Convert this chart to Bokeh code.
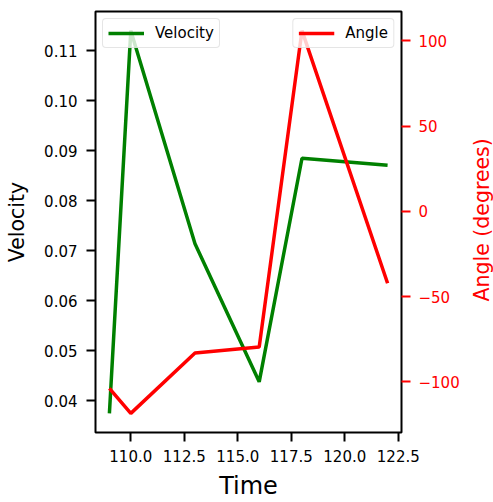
import math
from bokeh.plotting import figure
from bokeh.layouts import row
from bokeh.models import (Range1d, LinearAxis, FixedTicker, PrintfTickFormatter,
                          Legend, LegendItem)
from bokeh.core.properties import value
from bokeh.embed import file_html
from bokeh.resources import INLINE

# ---- data ----
time = [109, 110, 113, 116, 118, 122]
velocity = [0.0375, 0.1140, 0.0714, 0.0438, 0.0885, 0.0871]
angle = [-103.8, -118.5, -83.1, -79.6, 106.0, -42.2]

x_ticks = [110.0, 112.5, 115.0, 117.5, 120.0, 122.5]
v_ticks = [0.04, 0.05, 0.06, 0.07, 0.08, 0.09, 0.10, 0.11]
a_ticks = [-100, -50, 0, 50, 100]
a_tick_labels = {-100: "\u2212100", -50: "\u221250", 0: "0", 50: "50", 100: "100"}


def padded(vals, frac=0.05):
    lo, hi = min(vals), max(vals)
    d = (hi - lo) * frac
    return lo - d, hi + d


FONT = "DejaVu Sans"
TICK_SIZE = "15px"

xr = Range1d(*padded(time))
vr = Range1d(*padded(velocity))
ar = Range1d(*padded(angle))

TOTAL_W, H = 493, 502
STRIP_W = 28
W = TOTAL_W - STRIP_W
BORDER_L, BORDER_T, BORDER_B = 95, 11, 70
FRAME_W = 306

p = figure(width=W, height=H, output_backend="svg", toolbar_location=None,
           x_range=xr, y_range=vr,
           min_border_left=BORDER_L, min_border_right=W - BORDER_L - FRAME_W,
           min_border_top=BORDER_T, min_border_bottom=BORDER_B,
           x_axis_location="below", y_axis_location="left")
p.extra_y_ranges = {"angle": ar}
p.grid.visible = False
p.outline_line_color = "black"
p.outline_line_width = 2
p.background_fill_color = "white"
p.border_fill_color = "white"

rv = p.line(time, velocity, line_color="green", line_width=3.5)
ra = p.line(time, angle, line_color="red", line_width=3.5, y_range_name="angle")

right = LinearAxis(y_range_name="angle")
p.add_layout(right, "right")


def style_axis(ax, color="black"):
    ax.axis_line_color = None
    ax.minor_tick_line_color = None
    ax.major_tick_in = 0
    ax.major_tick_out = 9
    ax.major_tick_line_width = 2
    ax.major_tick_line_color = color
    ax.major_label_text_font = FONT
    ax.major_label_text_font_size = TICK_SIZE
    ax.major_label_text_color = color
    ax.major_label_standoff = 9
    ax.axis_label_text_font = FONT
    ax.axis_label_text_font_style = "normal"
    ax.axis_label_text_color = color


xa = p.xaxis[0]
ya = p.yaxis[0]
style_axis(xa)
style_axis(ya)
style_axis(right, "red")

xa.ticker = FixedTicker(ticks=x_ticks)
xa.formatter = PrintfTickFormatter(format="%.1f")
xa.major_label_standoff = 8
xa.axis_label = "Time"
xa.axis_label_text_font_size = "24px"
xa.axis_label_standoff = 7

ya.ticker = FixedTicker(ticks=v_ticks)
ya.formatter = PrintfTickFormatter(format="%.2f")
ya.axis_label = "Velocity"
ya.axis_label_text_font_size = "20.5px"
ya.axis_label_standoff = 12

right.ticker = FixedTicker(ticks=a_ticks)
right.major_label_overrides = a_tick_labels
right.major_label_standoff = 8


def make_legend(item_label, rend, loc):
    lg = Legend(items=[LegendItem(label=item_label, renderers=[rend])], location=loc)
    lg.margin = 7
    lg.padding = 5
    lg.spacing = 0
    lg.label_height = 18
    lg.glyph_height = 18
    lg.glyph_width = 36
    lg.label_standoff = 11
    lg.label_text_font = FONT
    lg.label_text_font_size = "15px"
    lg.label_text_color = "black"
    lg.border_line_color = "#cccccc"
    lg.border_line_width = 1.5
    lg.background_fill_color = "white"
    lg.background_fill_alpha = 0.8
    if "border_radius" in lg.properties():
        lg.border_radius = 4
    return lg


p.add_layout(make_legend("Velocity", rv, "top_left"))
p.add_layout(make_legend("Angle", ra, "top_right"))

# right-hand axis title strip (text reads bottom-to-top like the reference)
t = figure(width=STRIP_W, height=H, output_backend="svg", toolbar_location=None,
           x_range=Range1d(0, STRIP_W), y_range=Range1d(0, H),
           min_border=0, outline_line_color=None)
t.axis.visible = False
t.grid.visible = False
t.background_fill_color = "white"
t.border_fill_color = "white"
frame_mid = H - (BORDER_T + (H - BORDER_T - BORDER_B) / 2)
t.text(x=[16], y=[frame_mid - 27], text=["Angle (degrees)"], angle=math.pi / 2,
       text_align="center", text_baseline="alphabetic",
       text_font=value(FONT), text_font_size="20.5px", text_color="red")

layout = row(p, t, spacing=0)
open("out.html", "w").write(file_html(layout, INLINE))
